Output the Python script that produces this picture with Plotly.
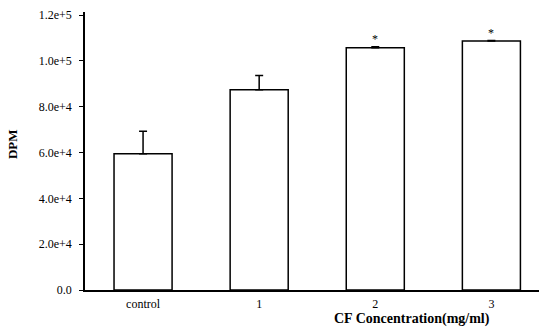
import plotly.graph_objects as go

categories = ["control", "1", "2", "3"]
dpm_mean = [59500, 87400, 105700, 108600]
dpm_err = [9800, 6200, 400, 250]
significant = [False, False, True, True]
y_tick_vals = [0, 20000, 40000, 60000, 80000, 100000, 120000]
y_tick_text = ["0.0", "2.0e+4", "4.0e+4", "6.0e+4", "8.0e+4", "1.0e+5", "1.2e+5"]

font_family = "Liberation Serif, Times New Roman, serif"

fig = go.Figure()
fig.add_trace(go.Bar(
    x=categories, y=dpm_mean, width=0.5,
    marker=dict(color="white", line=dict(color="black", width=1.5)),
    error_y=dict(type="data", symmetric=False, array=dpm_err,
                 arrayminus=[0] * len(dpm_err), color="black",
                 thickness=1.5, width=4),
    showlegend=False,
))

for c, m, e, s in zip(categories, dpm_mean, dpm_err, significant):
    if s:
        fig.add_annotation(x=c, y=m + e, text="*", showarrow=False,
                           yanchor="bottom", yshift=-1,
                           font=dict(family=font_family, size=12, color="black"))

fig.add_annotation(xref="paper", yref="paper", x=0.72, y=-0.104,
                   xanchor="center", yanchor="middle", showarrow=False,
                   text="<b>CF Concentration(mg/ml)</b>",
                   font=dict(family=font_family, size=14, color="black"))

fig.add_annotation(xref="paper", yref="paper", x=-0.158, y=0.526,
                   xanchor="center", yanchor="middle", showarrow=False,
                   textangle=-90, text="<b>DPM</b>",
                   font=dict(family=font_family, size=13, color="black"))

fig.update_layout(
    width=539, height=331,
    margin=dict(l=85, r=0, t=12, b=41, autoexpand=False),
    paper_bgcolor="white", plot_bgcolor="white",
    font=dict(family=font_family, size=12, color="black"),
    bargap=0.5,
    xaxis=dict(range=[-0.5, 3.41], showline=True, linecolor="black",
               linewidth=1.5, ticks="", showgrid=False, zeroline=False,
               automargin=False, ticklabelstandoff=2, tickfont=dict(size=12)),
    yaxis=dict(range=[0, 121309], showline=True, linecolor="black",
               linewidth=1.5, ticks="outside", ticklen=4, tickcolor="black",
               tickvals=y_tick_vals, ticktext=y_tick_text, showgrid=False,
               zeroline=False, automargin=False, ticklabelstandoff=5,
               tickfont=dict(size=12)),
)

fig.write_html("out.html",
               config={"displayModeBar": False},
               post_script="document.body.style.margin='0';"
                           "document.body.style.overflow='hidden';")
